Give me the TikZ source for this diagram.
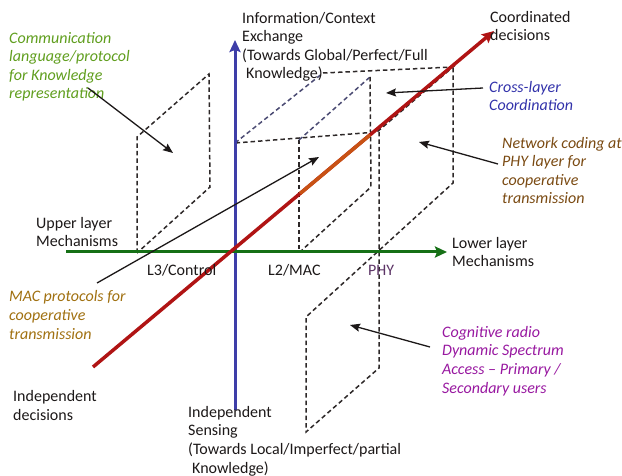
\documentclass[tikz,border=0pt]{standalone}
\usepackage{fontspec}
\setmainfont{Carlito}
\usetikzlibrary{arrows.meta}
\definecolor{axblue}{RGB}{62,62,168}
\definecolor{axgreen}{RGB}{22,112,22}
\definecolor{axred}{RGB}{176,20,20}
\definecolor{axorange}{RGB}{200,82,20}
\definecolor{dashgray}{RGB}{45,40,40}
\definecolor{dashblue}{RGB}{75,75,115}
\definecolor{txtdark}{RGB}{28,24,24}
\definecolor{txtgreen}{RGB}{96,158,30}
\definecolor{txtblue}{RGB}{50,50,170}
\definecolor{txtbrown}{RGB}{122,74,18}
\definecolor{txtgold}{RGB}{160,112,16}
\definecolor{txtmagenta}{RGB}{152,24,160}
\definecolor{txtpurple}{RGB}{92,52,102}
\begin{document}
\begin{tikzpicture}[x=1pt,y=-1pt,
  lbl/.style={anchor=base west, inner sep=0pt, align=left, text=txtdark,
    font=\fontsize{16}{18.6}\selectfont},
  ital/.style={lbl, font=\fontsize{16}{18.6}\selectfont\itshape},
  plane/.style={draw=dashgray, dash pattern=on 4.5pt off 3pt, line width=1.5pt},
  planeb/.style={plane, draw=dashblue},
  note/.style={draw=txtdark, line width=1.3pt, -{Stealth[length=10pt,width=8pt,inset=1.5pt]}},
  axis/.style={line width=3pt, -{Stealth[length=12pt,width=11pt,inset=2pt]}}
]
\useasboundingbox (0,0) rectangle (622,476);

% dashed planes
\draw[plane] (137,253) -- (137,137) -- (209,74) -- (210,187) -- cycle;
\draw[planeb] (235,143) -- (323,73);
\draw[plane] (323,73) -- (453,67) -- (377,132) -- (235,143);
\draw[plane] (299,140) -- (299,252);
\draw[planeb] (299,140) -- (370,77);
\draw[plane] (370,77) -- (371,187) -- (301,251);
\draw[plane] (379,132) -- (379,368) -- (306,432) -- (306,317) -- (453,183) -- (453,67);

% axes
\coordinate (vbot) at (235,410);
\coordinate (vtop) at (235,40);
\coordinate (hleft) at (66,252);
\coordinate (hright) at (447,252);
\coordinate (rlow) at (93,367);
\coordinate (rhigh) at (494,31);
\coordinate (oa) at (300,193.6);
\coordinate (ob) at (370,135);
\draw[axis, draw=axblue, color=axblue] (vbot) -- (vtop);
\draw[axis, draw=axgreen, color=axgreen] (hleft) -- (hright);
\draw[axis, draw=axred, color=axred, line width=3.5pt] (rlow) -- (rhigh);
\draw[line width=3.5pt, draw=axorange] (oa) -- (ob);

% labels (anchor = baseline of the last line)
\node[lbl] (info) at (242,79) {Information/Context\\Exchange\\(Towards Global/Perfect/Full\\\hspace{4pt}Knowledge)};
\node[lbl] (coord) at (490,41) {Coordinated\\decisions};
\node[ital, text=txtgreen] (comm) at (9,99) {Communication\\language/protocol\\for Knowledge\\representation};
\node[ital, text=txtblue] (cross) at (489,111) {Cross-layer\\Coordination};
\node[ital, text=txtbrown] (netc) at (502,204) {Network coding at\\PHY layer for\\cooperative\\transmission};
\node[lbl] (upper) at (36,247) {Upper layer\\Mechanisms};
\node[lbl] (lthree) at (147,276) {L3/Control};
\node[lbl] (ltwo) at (268,276) {L2/MAC};
\node[lbl, text=txtpurple] (phy) at (368,276) {PHY};
\node[lbl] (lower) at (452,267) {Lower layer\\Mechanisms};
\node[ital, text=txtgold] (macp) at (9,339) {MAC protocols for\\cooperative\\transmission};
\node[lbl] (inddec) at (13,420) {Independent\\decisions};
\node[lbl] (indsens) at (188,473) {Independent\\Sensing\\(Towards Local/Imperfect/partial\\\hspace{4pt}Knowledge)};
\node[ital, text=txtmagenta] (cogn) at (442,393) {Cognitive radio\\Dynamic Spectrum\\Access -- Primary /\\Secondary users};

% annotation arrows
\coordinate (a1s) at (88,88);   \coordinate (a1e) at (173,153);
\coordinate (a2s) at (97,283);  \coordinate (a2e) at (319,157);
\coordinate (a3s) at (483,88);  \coordinate (a3e) at (386,93);
\coordinate (a4s) at (498,164); \coordinate (a4e) at (419,142);
\coordinate (a5s) at (430,347); \coordinate (a5e) at (350,325);
\draw[note] (a1s) -- (a1e);
\draw[note] (a2s) -- (a2e);
\draw[note] (a3s) -- (a3e);
\draw[note] (a4s) -- (a4e);
\draw[note] (a5s) -- (a5e);
\end{tikzpicture}
\end{document}
